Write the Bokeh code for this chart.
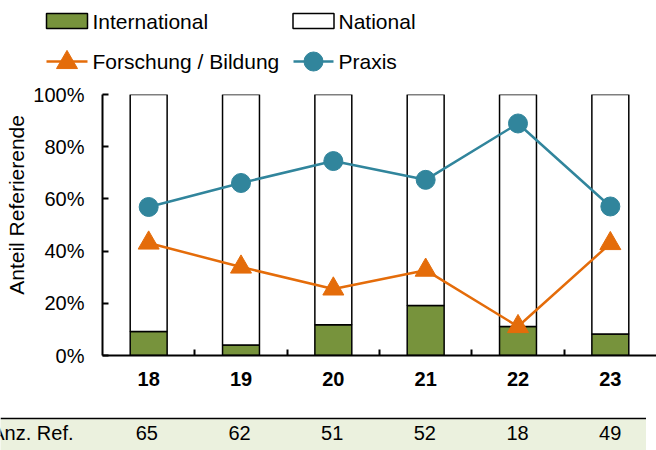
from bokeh.plotting import figure
from bokeh.layouts import column, row
from bokeh.models import Range1d, FixedTicker, NumeralTickFormatter, ColumnDataSource
from bokeh.core.properties import value
from bokeh.embed import file_html
from bokeh.resources import INLINE
import math

# ---------------- data ----------------
years = ["18", "19", "20", "21", "22", "23"]
international = [0.092, 0.040, 0.118, 0.192, 0.111, 0.082]
national = [0.908, 0.960, 0.882, 0.808, 0.889, 0.918]
forschung = [0.431, 0.339, 0.255, 0.327, 0.111, 0.429]
praxis = [0.569, 0.661, 0.745, 0.673, 0.889, 0.571]
anz_ref = [65, 62, 51, 52, 18, 49]
legend_labels = ["International", "National", "Forschung / Bildung", "Praxis"]
table_label = "Anz. Ref."
y_title = "Anteil  Referierende"
y_ticks = [0, 0.2, 0.4, 0.6, 0.8, 1.0]

FONT = "Liberation Sans"
GREEN = "#77933C"
ORANGE = "#E46C0A"
TEAL = "#31859C"
LIGHT = "#EBF1DE"

xs = list(range(len(years)))
int_top = international
nat_top = [a + b for a, b in zip(international, national)]

W = 656
FRAME_LEFT = 100
TITLE_W = 30
PX_PER_CAT = (W - FRAME_LEFT) / len(years)
MAIN_H = 337

# ---------------- legend figure ----------------
leg = figure(width=W, height=80, x_range=Range1d(0, W), y_range=Range1d(80, 0),
             output_backend="svg", toolbar_location=None,
             x_axis_location=None, y_axis_location=None,
             min_border=0, outline_line_color=None, frame_align=False)
leg.grid.visible = False
leg.rect(x=[66.5], y=[20.5], width=41, height=15, fill_color=GREEN, line_color="black", line_width=1.5)
leg.rect(x=[313], y=[20.5], width=41, height=15, fill_color="white", line_color="black", line_width=1.5)
leg.line(x=[46, 87], y=[61, 61], line_color=ORANGE, line_width=2.5)
leg.scatter(x=[66.5], y=[62], marker="triangle", size=21, fill_color=ORANGE, line_color=ORANGE)
leg.line(x=[293, 333], y=[61, 61], line_color=TEAL, line_width=2.5)
leg.scatter(x=[313], y=[61], marker="circle", size=19, fill_color=TEAL, line_color=TEAL)
leg.text(x=[92, 338, 92, 338], y=[20.5, 20.5, 61, 61], text=legend_labels,
         text_font=value(FONT), text_font_size="21px", text_baseline="middle",
         text_align="left", text_color="black")

# ---------------- y title figure ----------------
tf = figure(width=TITLE_W, height=MAIN_H, x_range=Range1d(0, TITLE_W), y_range=Range1d(MAIN_H, 0),
            output_backend="svg", toolbar_location=None,
            x_axis_location=None, y_axis_location=None,
            min_border=0, outline_line_color=None, frame_align=False)
tf.grid.visible = False
tf.text(x=[16], y=[121.5], text=[y_title], angle=math.pi / 2,
        text_font=value(FONT), text_font_size="21px", text_align="center",
        text_baseline="middle", text_color="black")

# ---------------- main figure ----------------
p = figure(width=W - TITLE_W, height=MAIN_H, x_range=Range1d(-0.5, len(years) - 0.5),
           y_range=Range1d(0, 1),
           output_backend="svg", toolbar_location=None, frame_align=False,
           min_border_left=FRAME_LEFT - TITLE_W, min_border_right=0, min_border_top=14,
           min_border_bottom=62, outline_line_color=None)
p.grid.visible = False

src = ColumnDataSource(dict(x=xs, int_top=int_top, nat_top=nat_top,
                            forschung=forschung, praxis=praxis))
p.vbar(x="x", bottom=0, top="int_top", width=0.4, source=src,
       fill_color=GREEN, line_color="black", line_width=1.5)
p.vbar(x="x", bottom="int_top", top="nat_top", width=0.4, source=src,
       fill_color="white", line_color="black", line_width=1.5)
p.line(x="x", y="forschung", source=src, line_color=ORANGE, line_width=2.5)
p.line(x="x", y="praxis", source=src, line_color=TEAL, line_width=2.5)
p.scatter(x="x", y="forschung", source=src, marker="triangle", size=21,
          fill_color=ORANGE, line_color=ORANGE)
p.scatter(x="x", y="praxis", source=src, marker="circle", size=19,
          fill_color=TEAL, line_color=TEAL)

ya = p.yaxis[0]
ya.ticker = FixedTicker(ticks=y_ticks)
ya.formatter = NumeralTickFormatter(format="0%")
ya.major_label_text_font = FONT
ya.major_label_text_font_size = "20px"
ya.major_label_text_color = "black"
ya.major_tick_in = 6
ya.major_tick_out = 0
ya.minor_tick_line_color = None
ya.axis_line_width = 2
ya.major_tick_line_width = 2
ya.major_label_standoff = 18

xa = p.xaxis[0]
xa.ticker = FixedTicker(ticks=xs, minor_ticks=[i + 0.5 for i in xs[:-1]])
xa.major_label_overrides = {i: y for i, y in zip(xs, years)}
xa.major_label_text_font = FONT
xa.major_label_text_font_size = "20px"
xa.major_label_text_font_style = "bold"
xa.major_label_text_color = "black"
xa.major_tick_in = 0
xa.major_tick_out = 0
xa.minor_tick_in = 6
xa.minor_tick_out = 0
xa.minor_tick_line_width = 2
xa.axis_line_width = 2
xa.major_label_standoff = 16

# ---------------- table figure ----------------
TW = 646
t_start = -0.5 - FRAME_LEFT / PX_PER_CAT
t = figure(width=TW, height=33, x_range=Range1d(t_start, t_start + TW / PX_PER_CAT),
           y_range=Range1d(0, 1), output_backend="svg", toolbar_location=None,
           x_axis_location=None, y_axis_location=None, frame_align=False,
           min_border_left=0, min_border_right=0, min_border_bottom=0, min_border_top=2,
           border_fill_color="black", background_fill_color=LIGHT, outline_line_color=None)
t.grid.visible = False
t.text(x=xs, y=[0.58] * len(xs), text=[str(v) for v in anz_ref], text_font=value(FONT),
       text_font_size="20px", text_align="center", text_baseline="middle", text_color="black")
t.text(x=[-0.5 - (FRAME_LEFT - 73) / PX_PER_CAT], y=[0.58], text=[table_label], text_font=value(FONT),
       text_font_size="20px", text_align="right", text_baseline="middle", text_color="black")

layout = column(leg, row(tf, p, spacing=0), t, spacing=0)

open("out.html", "w").write(file_html(layout, INLINE))
